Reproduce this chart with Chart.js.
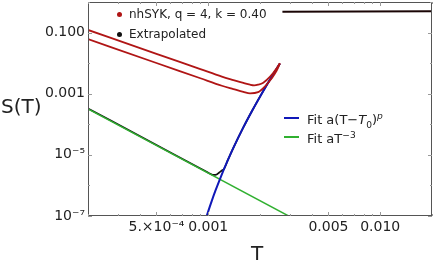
<!DOCTYPE html>
<html>
<head>
<meta charset="utf-8">
<script src="https://cdn.jsdelivr.net/npm/chart.js@4.4.1/dist/chart.umd.min.js"></script>
<style>
  body { margin: 0; background: #fff; }
  #wrap { position: relative; width: 436px; height: 267px; font-family: 'DejaVu Sans', sans-serif; color: #222; }
  canvas { display: block; }
  .lbl { position: absolute; white-space: nowrap; line-height: 1; }
  .lbl sup, .lbl sub { font-size: 70%; line-height: 0; }
  .dot { position: absolute; width: 5px; height: 5px; border-radius: 50%; }
  .seg { position: absolute; height: 2px; width: 15px; }
</style>
</head>
<body>
<div id="wrap">
  <canvas id="chart" width="436" height="267"></canvas>
  <div class="lbl" style="left:1px; top:96px; font-size:20px;">S(T)</div>
  <div class="lbl" style="left:251px; top:243px; font-size:20px;">T</div>

  <span class="dot" style="left:117px; top:11.5px; background:#b01515;"></span>
  <div class="lbl" style="left:129px; top:7.5px; font-size:12px;">nhSYK, q = 4, k = 0.40</div>
  <span class="dot" style="left:117px; top:31.5px; background:#111;"></span>
  <div class="lbl" style="left:129px; top:27.5px; font-size:12px;">Extrapolated</div>

  <span class="seg" style="left:284px; top:117px; background:#1018b8;"></span>
  <div class="lbl" style="left:307px; top:113px; font-size:13px;">Fit a(T−<i>T</i><sub>0</sub>)<sup><i>p</i></sup></div>
  <span class="seg" style="left:284px; top:135.5px; background:#30b030;"></span>
  <div class="lbl" style="left:307px; top:131.5px; font-size:13px;">Fit aT<sup>−3</sup></div>
</div>
<script>
// nhSYK curves (two branches)
const upperT = [2e-4, 5e-4, 9e-4, 1.2e-3, 1.4e-3, 1.6e-3, 1.75e-3, 1.85e-3, 1.95e-3, 2.09e-3, 2.29e-3, 2.5e-3, 2.61e-3];
const upperS = [0.122, 0.0202, 6.4e-3, 3.64e-3, 2.8e-3, 2.25e-3, 1.97e-3, 1.88e-3, 1.98e-3, 2.3e-3, 3.6e-3, 6.8e-3, 9.9e-3];
const lowerT = [2e-4, 5e-4, 9e-4, 1.2e-3, 1.4e-3, 1.6e-3, 1.75e-3, 1.95e-3, 2.14e-3, 2.34e-3, 2.5e-3, 2.61e-3];
const lowerS = [0.061, 0.0101, 3.2e-3, 1.82e-3, 1.42e-3, 1.15e-3, 1.03e-3, 1.13e-3, 1.75e-3, 3.19e-3, 5.66e-3, 9.9e-3];
// flat part at high T
const highT = [2.7e-3, 0.02];
const highS = [0.48, 0.50];

// extrapolated
const extT = [2e-4, 5e-4, 8.95e-4, 9.84e-4, 1.03e-3, 1.072e-3, 1.12e-3, 1.16e-3, 1.2e-3, 1.235e-3, 1.3e-3, 1.4e-3, 1.6e-3, 1.8e-3, 2.0e-3, 2.2e-3, 2.4e-3, 2.61e-3];
const extS = [3.3e-4, 2.1e-5, 3.63e-6, 2.75e-6, 2.4e-6, 2.2e-6, 2.28e-6, 2.65e-6, 3.08e-6, 3.46e-6, 6.7e-6, 1.69e-5, 7.9e-5, 2.77e-4, 8.0e-4, 2.02e-3, 4.5e-3, 9.75e-3];

// fits
const powT = [9.7e-4, 1.0e-3, 1.05e-3, 1.1e-3, 1.2e-3, 1.3e-3, 1.4e-3, 1.6e-3, 1.8e-3, 2.0e-3, 2.2e-3, 2.4e-3, 2.61e-3];
const powS = [8.3e-8, 1.42e-7, 3.19e-7, 6.6e-7, 2.32e-6, 6.7e-6, 1.69e-5, 7.9e-5, 2.77e-4, 8.0e-4, 2.02e-3, 4.5e-3, 9.75e-3];
const cubeT = [2e-4, 3e-3];
const cubeS = [3.16e-4, 9.36e-8];

// ticks
const xTickValues = [5e-4, 1e-3, 5e-3, 1e-2];
const xTickLabels = ['5.×10⁻⁴', '0.001', '0.005', '0.010'];
const xMinorTicks = [2e-4, 3e-4, 4e-4, 6e-4, 7e-4, 8e-4, 9e-4, 2e-3, 3e-3, 4e-3, 6e-3, 7e-3, 8e-3, 9e-3, 2e-2];
const yTickValues = [1e-7, 1e-5, 1e-3, 1e-1];
const yTickLabels = ['10⁻⁷', '10⁻⁵', '0.001', '0.100'];
const yMinorTicks = [1e-6, 1e-4, 1e-2, 1];

const pts = (xs, ys) => xs.map((x, i) => ({ x: x, y: ys[i] }));

const frame = {
  id: 'frame',
  afterDatasetsDraw(chart) {
    const { ctx, chartArea: a, scales: { x, y } } = chart;
    ctx.save();
    ctx.strokeStyle = '#555';
    ctx.lineWidth = 1;
    ctx.strokeRect(a.left + 0.5, a.top + 0.5, a.right - a.left - 1, a.bottom - a.top - 1);
    const xt = (v, len) => {
      const px = Math.round(x.getPixelForValue(v)) + 0.5;
      ctx.beginPath();
      ctx.moveTo(px, a.bottom); ctx.lineTo(px, a.bottom - len);
      ctx.moveTo(px, a.top); ctx.lineTo(px, a.top + len);
      ctx.stroke();
    };
    const yt = (v, len) => {
      const py = Math.round(y.getPixelForValue(v)) + 0.5;
      ctx.beginPath();
      ctx.moveTo(a.left, py); ctx.lineTo(a.left + len, py);
      ctx.moveTo(a.right, py); ctx.lineTo(a.right - len, py);
      ctx.stroke();
    };
    ctx.strokeStyle = '#999';
    xTickValues.forEach(v => xt(v, 4));
    xMinorTicks.forEach(v => xt(v, 2));
    yTickValues.forEach(v => yt(v, 4));
    yMinorTicks.forEach(v => yt(v, 2));
    ctx.restore();
  }
};

const line = (data, color, width) => ({
  data: data,
  borderColor: color,
  borderWidth: width,
  pointRadius: 0,
  fill: false,
  cubicInterpolationMode: 'monotone'
});

const noPad = s => { s.paddingTop = 0; s.paddingBottom = 0; s.paddingLeft = 0; s.paddingRight = 0; };

new Chart(document.getElementById('chart'), {
  type: 'line',
  data: {
    datasets: [
      line(pts(upperT, upperS), '#b01515', 1.8),
      line(pts(lowerT, lowerS), '#b01515', 1.8),
      line(pts(powT, powS), '#1018b8', 2),
      line(pts(cubeT, cubeS), '#30b030', 1.5),
      line(pts(extT, extS), '#111', 1.7),
      line(pts(highT, highS), '#1a0505', 2)
    ]
  },
  options: {
    responsive: false,
    animation: false,
    devicePixelRatio: 1,
    layout: { padding: { top: 2, right: 4, left: 0, bottom: 0 } },
    plugins: { legend: { display: false }, tooltip: { enabled: false } },
    scales: {
      x: {
        type: 'logarithmic',
        min: 2e-4,
        max: 0.02,
        grid: { display: false, drawTicks: false },
        border: { display: false },
        afterBuildTicks: s => { s.ticks = xTickValues.map(v => ({ value: v })); },
        afterFit: s => { s.height = 51; noPad(s); },
        ticks: {
          padding: 3,
          maxRotation: 0,
          autoSkip: false,
          color: '#222',
          font: { family: 'DejaVu Sans', size: 14 },
          callback: v => xTickLabels[xTickValues.indexOf(v)]
        }
      },
      y: {
        type: 'logarithmic',
        min: 1e-7,
        max: 1,
        grid: { display: false, drawTicks: false },
        border: { display: false },
        afterBuildTicks: s => { s.ticks = yTickValues.map(v => ({ value: v })); },
        afterFit: s => { s.width = 88; noPad(s); },
        ticks: {
          padding: 3,
          autoSkip: false,
          color: '#222',
          font: { family: 'DejaVu Sans', size: 14 },
          callback: v => yTickLabels[yTickValues.indexOf(v)]
        }
      }
    }
  },
  plugins: [frame]
});
</script>
</body>
</html>
